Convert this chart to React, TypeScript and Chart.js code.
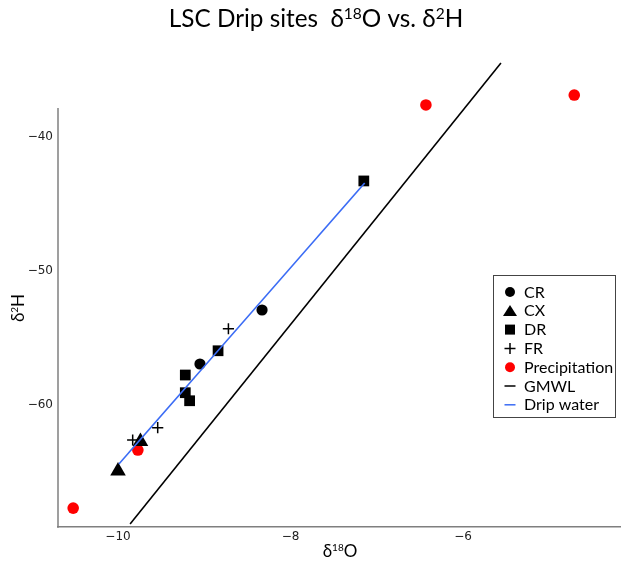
import { useEffect, useRef } from "react";
import { Chart, registerables } from "chart.js";
Chart.register(...registerables);

// ---- data ----
const crX = [-8.33, -9.05];
const crY = [-52.91, -56.94];
const cxX = [-9.74, -10.0];
const cxY = [-62.72, -64.92];
const drX = [-7.15, -8.84, -9.22, -9.22, -9.17];
const drY = [-43.28, -55.95, -57.76, -59.08, -59.68];
const frX = [-8.72, -9.54, -9.83];
const frY = [-54.31, -61.69, -62.61];
const precipX = [-10.52, -9.77, -6.43, -4.71];
const precipY = [-67.69, -63.36, -37.61, -36.87];
const gmwlX = [-9.86, -5.56];
const gmwlY = [-68.88, -34.48];
const dripX = [-9.99, -7.14];
const dripY = [-64.4, -43.43];
const xTicks = [-10, -8, -6];
const yTicks = [-60, -50, -40];
const legendLabels = ["CR", "CX", "DR", "FR", "Precipitation", "GMWL", "Drip water"];

const X_MIN = -10.696;
const X_MAX = -4.168;
const Y_MIN = -69.1;
const Y_AXIS_TOP = -37.84; // where the visible y spine ends
const Y_MAX = -33.51; // room above the spine for marks drawn above it

const FONT = "Lato, 'Open Sans', sans-serif";
const TICK_FONT = "'DejaVu Sans', sans-serif";
const BLUE = "#3b6cf5";
const RED = "#ff0000";
const SPINE = "#7f7f7f";

const pts = (xs: number[], ys: number[]) => xs.map((x, i) => ({ x, y: ys[i] }));
const fmt = (v: number) => (v < 0 ? "\u2212" + Math.abs(v) : String(v));

type Part = { t: string; sup?: boolean };

function drawParts(ctx: CanvasRenderingContext2D, parts: Part[], cx: number, baseline: number, size: number, supSize: number, rise: number) {
  let w = 0;
  for (const p of parts) {
    ctx.font = `${p.sup ? supSize : size}px ${FONT}`;
    w += ctx.measureText(p.t).width;
  }
  let x = cx - w / 2;
  ctx.textAlign = "left";
  ctx.textBaseline = "alphabetic";
  for (const p of parts) {
    ctx.font = `${p.sup ? supSize : size}px ${FONT}`;
    ctx.fillText(p.t, x, p.sup ? baseline - rise : baseline);
    x += ctx.measureText(p.t).width;
  }
}

function drawMarker(ctx: CanvasRenderingContext2D, style: string, x: number, y: number, s: number, color: string) {
  ctx.save();
  ctx.fillStyle = color;
  ctx.strokeStyle = color;
  ctx.beginPath();
  if (style === "circle") {
    ctx.arc(x, y, s / 2, 0, Math.PI * 2);
    ctx.fill();
  } else if (style === "triangle") {
    ctx.moveTo(x, y - s * 0.42);
    ctx.lineTo(x + s / 2, y + s * 0.38);
    ctx.lineTo(x - s / 2, y + s * 0.38);
    ctx.closePath();
    ctx.fill();
  } else if (style === "rect") {
    ctx.fillRect(x - s / 2, y - s / 2, s, s);
  } else if (style === "cross") {
    ctx.lineWidth = 1.5;
    ctx.moveTo(x - s / 2, y);
    ctx.lineTo(x + s / 2, y);
    ctx.moveTo(x, y - s / 2);
    ctx.lineTo(x, y + s / 2);
    ctx.stroke();
  } else if (style === "line") {
    ctx.lineWidth = 1.5;
    ctx.moveTo(x - s / 2, y);
    ctx.lineTo(x + s / 2, y);
    ctx.stroke();
  }
  ctx.restore();
}

const decorPlugin = {
  id: "decor",
  beforeDatasetsDraw(chart: any) {
    const ctx: CanvasRenderingContext2D = chart.ctx;
    const ys = chart.scales.y;
    const left = chart.chartArea.left;
    ctx.save();
    ctx.strokeStyle = SPINE;
    ctx.lineWidth = 1.5;
    ctx.beginPath();
    ctx.moveTo(left, ys.getPixelForValue(Y_AXIS_TOP));
    ctx.lineTo(left, chart.chartArea.bottom + 0.75);
    ctx.stroke();
    ctx.restore();
  },
  afterDraw(chart: any) {
    const ctx: CanvasRenderingContext2D = chart.ctx;
    ctx.save();
    ctx.fillStyle = "#000";
    // title
    drawParts(
      ctx,
      [{ t: "LSC Drip sites  \u03b4" }, { t: "18", sup: true }, { t: "O vs. \u03b4" }, { t: "2", sup: true }, { t: "H" }],
      316, 27, 24.3, 15.5, 8
    );
    // x axis label
    drawParts(ctx, [{ t: "\u03b4" }, { t: "18", sup: true }, { t: "O" }], 340, 557, 17, 10, 6);
    // y axis label
    ctx.save();
    ctx.translate(24, 308);
    ctx.rotate(-Math.PI / 2);
    drawParts(ctx, [{ t: "\u03b4" }, { t: "2", sup: true }, { t: "H" }], 0, 0, 17, 10, 6);
    ctx.restore();

    // legend
    const bx = 493.5, by = 275.5, bw = 122, bh = 142;
    ctx.fillStyle = "#fff";
    ctx.fillRect(bx, by, bw, bh);
    ctx.strokeStyle = "#444";
    ctx.lineWidth = 1;
    ctx.strokeRect(bx, by, bw, bh);
    const styles = ["circle", "triangle", "rect", "cross", "circle", "line", "line"];
    const colors = ["#000", "#000", "#000", "#000", RED, "#000", BLUE];
    const sizes = [10, 14, 10, 11, 10, 11, 11];
    const y0 = 292, dy = 18.8;
    ctx.font = `16px ${FONT}`;
    ctx.textAlign = "left";
    ctx.textBaseline = "middle";
    legendLabels.forEach((lab, i) => {
      const y = y0 + i * dy;
      drawMarker(ctx, styles[i], 510, y, sizes[i], colors[i]);
      ctx.fillStyle = "#000";
      ctx.fillText(lab, 524, y + 0.5);
    });
    ctx.restore();
  },
};

export default function App() {
  const ref = useRef<HTMLCanvasElement | null>(null);
  useEffect(() => {
    if (!ref.current) return;
    const chart = new Chart(ref.current, {
      type: "scatter",
      data: {
        datasets: [
          { label: "GMWL", data: pts(gmwlX, gmwlY), showLine: true, borderColor: "#000", borderWidth: 1.6, pointRadius: 0, order: 0, clip: false } as any,
          { label: "Drip water", data: pts(dripX, dripY), showLine: true, borderColor: BLUE, borderWidth: 1.6, pointRadius: 0, order: 0, clip: false } as any,
          { label: "CR", data: pts(crX, crY), pointStyle: "circle", pointRadius: 5.6, backgroundColor: "#000", borderWidth: 0, order: 1, clip: false } as any,
          { label: "CX", data: pts(cxX, cxY), pointStyle: "triangle", pointRadius: 9, backgroundColor: "#000", borderWidth: 0, order: 1, clip: false } as any,
          { label: "DR", data: pts(drX, drY), pointStyle: "rect", pointRadius: 7.6, backgroundColor: "#000", borderWidth: 0, order: 1, clip: false } as any,
          { label: "FR", data: pts(frX, frY), pointStyle: "cross", pointRadius: 5.6, borderColor: "#000", borderWidth: 1.5, order: 1, clip: false } as any,
          { label: "Precipitation", data: pts(precipX, precipY), pointStyle: "circle", pointRadius: 5.8, backgroundColor: RED, borderWidth: 0, order: 1, clip: false } as any,
        ],
      },
      options: {
        responsive: false,
        animation: false,
        events: [],
        layout: { autoPadding: false, padding: { top: 50, left: 0, right: 0, bottom: 0 } },
        plugins: { legend: { display: false }, title: { display: false }, tooltip: { enabled: false } },
        scales: {
          x: {
            type: "linear",
            min: X_MIN,
            max: X_MAX,
            grid: { display: false, drawTicks: false },
            border: { display: true, color: SPINE, width: 1.5 },
            ticks: { font: { family: TICK_FONT, size: 12 }, color: "#222", padding: 3, maxRotation: 0, callback: (v: any) => fmt(Number(v)) },
            afterBuildTicks: (s: any) => { s.ticks = xTicks.map((v) => ({ value: v })); },
            afterFit: (s: any) => { s.height = 36; s.paddingLeft = 0; s.paddingRight = 0; },
          },
          y: {
            type: "linear",
            min: Y_MIN,
            max: Y_MAX,
            grid: { display: false, drawTicks: false },
            border: { display: false },
            ticks: { font: { family: TICK_FONT, size: 12 }, color: "#222", padding: 5, callback: (v: any) => fmt(Number(v)) },
            afterBuildTicks: (s: any) => { s.ticks = yTicks.map((v) => ({ value: v })); },
            afterFit: (s: any) => { s.width = 58; s.paddingTop = 0; s.paddingBottom = 0; },
          },
        },
      },
      plugins: [decorPlugin],
    });
    return () => chart.destroy();
  }, []);
  return (
    <div style={{ position: "fixed", left: 0, top: 0, width: 621, height: 563, background: "#fff" }}>
      <canvas ref={ref} width={621} height={563} style={{ width: 621, height: 563 }} />
    </div>
  );
}
